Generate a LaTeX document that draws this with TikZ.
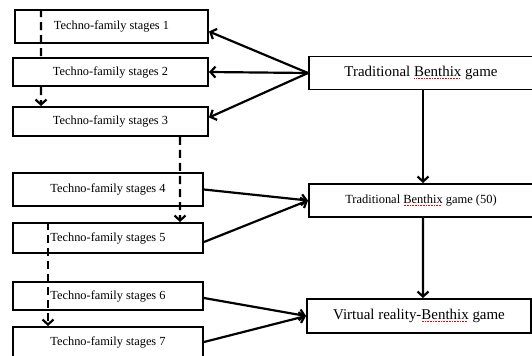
\documentclass[tikz,border=0pt]{standalone}
\usepackage{fontspec}
\setmainfont{Liberation Serif}
\usetikzlibrary{arrows.meta,calc,backgrounds}

% red spell-check dots under a word
\newcommand{\spellwave}[1]{\setbox0\hbox{#1}\rlap{\color{red}\raisebox{-2.5pt}{\hbox to \wd0{\leaders\hbox to 1.6pt{\hss\rule{0.9pt}{0.6pt}\hss}\hfill}}}#1}

\begin{document}
\begin{tikzpicture}[x=1bp,y=1bp,line width=2pt,every node/.style={draw,rectangle,inner sep=0pt,text centered}]

% Define block styles
\tikzstyle{stage} = [minimum width=190bp, minimum height=29bp,
    font=\fontsize{12.4}{14}\selectfont]
\tikzstyle{game} = [minimum width=224bp, minimum height=33bp]
\tikzstyle{link} = [draw, line width=2.2pt, -{Straight Barb[length=5bp,width=11bp]}]
\tikzstyle{dashlink} = [link, dash pattern=on 8bp off 5bp]

\useasboundingbox (0,0) rectangle (532,355);
\clip (0,0) rectangle (532,355);

\node [stage,minimum width=193bp,minimum height=33bp] (s1) at (111.5,328.5) {Techno-family stages 1};
\node [stage,minimum width=195bp,minimum height=28bp,fill=white] (s2) at (110.5,283) {Techno-family stages 2};
\node [stage,minimum width=195bp] (s3) at (110.5,233.5) {Techno-family stages 3};
\node [stage,minimum height=33bp] (s4) at (108,165.5) {Techno-family stages 4};
\node [stage,minimum height=30bp] (s5) at (108,117) {Techno-family stages 5};
\node [stage,minimum height=28bp] (s6) at (108,59) {Techno-family stages 6};
\node [stage,minimum height=30bp] (s7) at (108,13) {Techno-family stages 7};

\node [game,font=\fontsize{15}{17}\selectfont] (tg) at (421,282) {Traditional \spellwave{Benthix} game};
\node [game,font=\fontsize{12.5}{14}\selectfont] (tg50) at (421,154.5) {Traditional \spellwave{Benthix} game (50)};
\node [game,minimum width=224bp,minimum height=34bp,font=\fontsize{15}{17}\selectfont] (vr) at (419,39) {Virtual reality-\spellwave{Benthix} game};

\draw[link] (tg.west) -- ([yshift=-5bp]s1.east);
\draw[link] (tg.west) -- (s2.east);
\draw[link] (tg.west) -- ([yshift=4bp]s3.east);

\draw[link] (s4.east) -- (tg50.west);
\draw[link] ([yshift=-4bp]s5.east) -- (tg50.west);
\draw[link] ([yshift=-2bp]s6.east) -- (vr.west);
\draw[link] (s7.east) -- (vr.west);

\draw[link] ([xshift=2bp]tg.south) -- ([xshift=2bp]tg50.north);
\draw[link] ([xshift=2bp]tg50.south) -- ([xshift=4bp]vr.north);

% dashed links between stages
\begin{pgfonlayer}{background}
\draw[dashlink] ($(s1.north west)+(27bp,0)$) -- ($(s3.north west)+(29bp,0)$);
\end{pgfonlayer}
\draw[dashlink] ($(s3.south west)+(168bp,0)$) -- ($(s5.north west)+(168bp,0)$);
\draw[dashlink] ($(s5.north west)+(36bp,0)$) -- ($(s7.north west)+(36bp,0)$);

\end{tikzpicture}
\end{document}
